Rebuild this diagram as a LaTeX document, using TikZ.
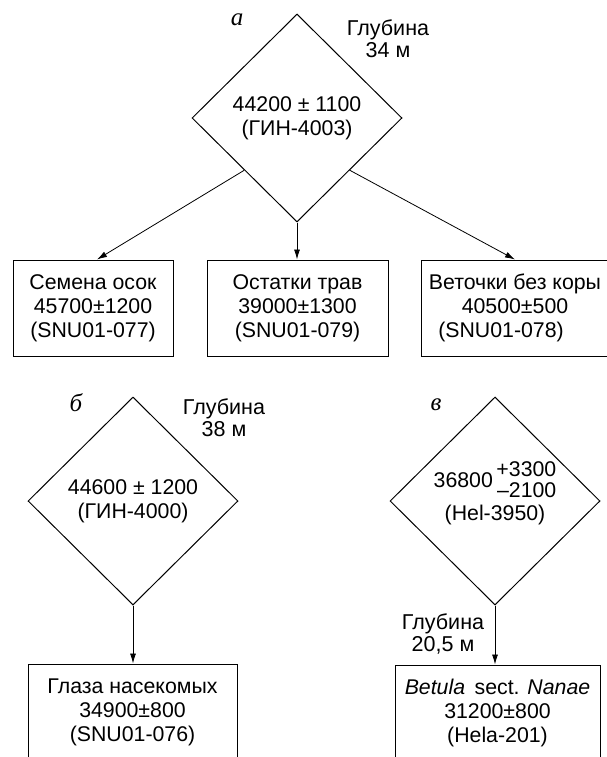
\documentclass[tikz,border=0pt]{standalone}
\usepackage{fontspec}
\setmainfont{Liberation Sans}
\newfontfamily\serifit{Liberation Serif}
\usetikzlibrary{shapes.geometric,arrows.meta,calc}
\begin{document}
\begin{tikzpicture}[x=1pt,y=-1pt,
  every node/.style={font=\fontsize{21.3}{24}\selectfont},
  dia/.style={draw,diamond,line width=1pt,inner sep=0pt,minimum width=210pt,minimum height=208pt,align=center},
  box/.style={draw,rectangle,line width=1pt,inner sep=0pt,align=center},
  lbl/.style={align=center,inner sep=0pt,font=\fontsize{21.5}{22}\selectfont},
  tag/.style={inner sep=0pt,font=\fontsize{25}{26}\serifit\itshape},
  arr/.style={line width=0.8pt,-{Latex[length=10pt,width=6pt]}}]
\useasboundingbox (0,0) rectangle (606,757);

% --- a ---
\node[dia] (dA) at (297,118) {44200 ± 1100\\(ГИН-4003)};
\node[tag] (tA) at (237,20) {а};
\node[lbl] (gA) at (388,39) {Глубина\\34 м};
\node[box,minimum width=160pt,minimum height=96pt] (bA1) at (93,308) {Семена осок\\45700±1200\\(SNU01-077)};
\node[box,minimum width=181pt,minimum height=96pt] (bA2) at (297.5,308) {Остатки трав\\39000±1300\\(SNU01-079)};
\node[box,minimum width=188pt,minimum height=96pt] (bA3) at (515,308) {Веточки без коры\\40500±500\hspace*{28pt}\\(SNU01-078)\hspace*{28pt}};
\draw[arr] ($(dA.west)!0.5!(dA.south)$) -- ($(bA1.north)+(4,0)$);
\draw[arr] (dA.south) -- (dA.south |- bA2.north);
\draw[arr] ($(dA.east)!0.5!(dA.south)$) -- (bA3.north);

% --- b ---
\node[dia] (dB) at (133,501) {44600 ± 1200\\(ГИН-4000)};
\node[tag] (tB) at (76,403) {б};
\node[lbl] (gB) at (224,418) {Глубина\\38 м};
\node[box,minimum width=209pt,minimum height=96pt] (bB) at (132.5,712) {Глаза насекомых\\34900±800\\(SNU01-076)};
\draw[arr] (dB.south) -- (dB.south |- bB.north);

% --- v ---
\node[dia] (dV) at (495,501) {36800\,{\def\arraystretch{0.85}\begin{tabular}{@{}r@{}}+3300\\–2100\end{tabular}}\\(Hel-3950)\rule[-20pt]{0pt}{0pt}};
\node[tag] (tV) at (436,405) {в};
\node[box,minimum width=205pt,minimum height=96pt] (bV) at (497.5,713) {\textit{Betula}\, sect. \textit{Nanae}\\31200±800\\(Hela-201)};
\draw[arr] (dV.south) -- (dV.south |- bV.north);
\node[lbl] (gV) at (443,634) {Глубина\\20,5 м};
\end{tikzpicture}
\end{document}
